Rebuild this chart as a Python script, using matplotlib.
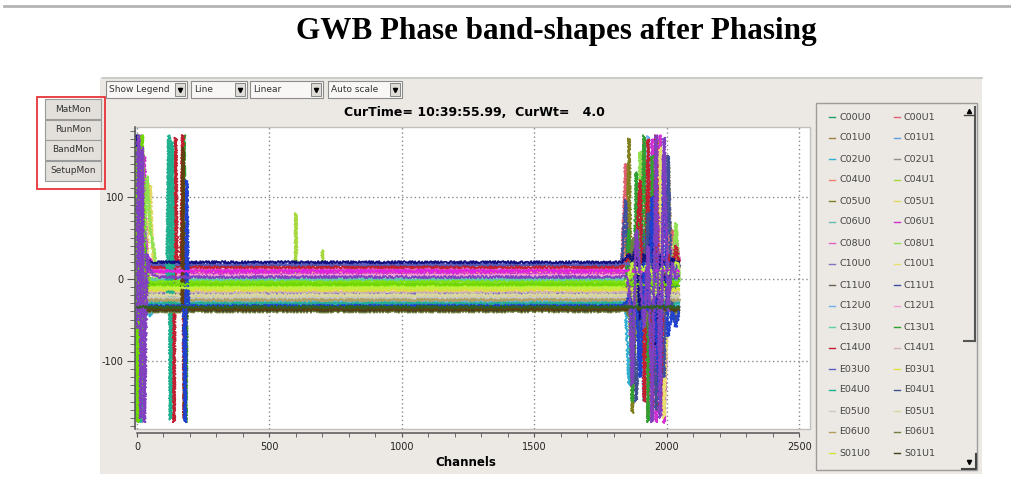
import numpy as np
import matplotlib.pyplot as plt
import matplotlib.ticker as ticker
from matplotlib.patches import Rectangle

plt.rcParams['axes.unicode_minus'] = False

# antenna/polarisation traces (first 34 are visible in the legend, the rest are scrolled off)
labels = ['C00U0', 'C00U1', 'C01U0', 'C01U1', 'C02U0', 'C02U1', 'C04U0', 'C04U1',
          'C05U0', 'C05U1', 'C06U0', 'C06U1', 'C08U0', 'C08U1', 'C10U0', 'C10U1',
          'C11U0', 'C11U1', 'C12U0', 'C12U1', 'C13U0', 'C13U1', 'C14U0', 'C14U1',
          'E03U0', 'E03U1', 'E04U0', 'E04U1', 'E05U0', 'E05U1', 'E06U0', 'E06U1',
          'S01U0', 'S01U1', 'S02U0', 'S02U1', 'S03U0', 'S03U1', 'S04U0', 'S04U1',
          'S06U0', 'S06U1', 'W01U0', 'W01U1']
colors = ['#20a060', '#e06070', '#a08040', '#60a0e0', '#30b0d0', '#909090', '#f08070', '#a8d840',
          '#808020', '#e0d860', '#60c0b0', '#d030d0', '#e060c0', '#90e050', '#8070c0', '#e8e070',
          '#706050', '#4050a0', '#70b0f0', '#f0a0d0', '#60d0a0', '#30a030', '#c02030', '#d0b0b0',
          '#6060c0', '#e0e040', '#20b090', '#405090', '#c8c8c8', '#d8d8a0', '#b0a060', '#708040',
          '#d8e040', '#404020', '#80e010', '#101080', '#a0f020', '#604010', '#2040d0', '#e020e0',
          '#c0f040', '#70d800', '#8040c0', '#306020']
# phase (deg) of each trace across the flat part of the band
levels = [-10, 10, -25, -30, -32, -20, 8, -12, -38, -22, 0, 6, 12, -6, -18, -26,
          -36, 16, -28, 4, -2, -8, 14, -16, 18, -14, -30, -34, -24, -20, -26, -40,
          -12, -38, -4, 20, -9, -37, -33, 9, -11, -7, 2, -35]

# band-edge readings
chan_left = [0, 4, 9, 14, 20, 28, 38, 50, 64, 80]
left_swing = {
    'C06U1': [20, 170, -172, 175, -165, 150, -40, 25, 8, 6],
    'W01U0': [-60, 175, 172, -170, 160, -175, 30, 10, 4, 2],
    'S02U0': [170, -165, 175, -120, 90, -30, 10, -4, -6, -4],
    'C13U1': [-172, 160, -175, 130, -60, 40, -20, -5, -8, -8],
    'C00U0': [120, -170, 150, -172, 100, -50, 20, -14, -10, -10],
    'C08U1': [-100, 175, -150, 90, 140, 40, 125, 60, 35, -6],
    'C02U0': [-20, -170, 165, -160, 60, -45, -42, -45, -40, -32],
    'C12U1': [170, 100, -160, 172, -30, 20, 10, 6, 4, 4],
    'E04U0': [-170, 172, -100, -175, 40, -30, -35, -30, -30, -30],
    'C05U1': [30, -172, 174, -60, 120, -40, 20, 115, -15, -22],
    'S02U1': [175, -60, 20, 22, 25, 20, 24, 21, 20, 20],
    'C10U0': [-174, 150, -120, 170, -175, 60, -20, -18, -18, -18],
    'S06U1': [160, -175, 120, -150, 175, -20, -10, -7, -7, -7],
    'C14U1': [-150, 60, 174, -172, 30, -16, -16, -16, -16, -16],
}
chan_right = [1830, 1845, 1858, 1870, 1885, 1900, 1915, 1930,
              1945, 1960, 1975, 1990, 2005, 2020, 2035, 2047]
right_swing = {
    'C14U0': [14, 20, 30, 10, 40, 120, -150, 170, -170, 175, -160, 20, 30, 10, 40, 20],
    'C11U1': [16, 96, -20, 30, 50, 10, 60, -100, 40, 10, -40, -120, 150, -50, 20, 15],
    'C00U1': [10, 140, -40, 20, 30, 60, 170, -172, 100, 174, -60, 30, 20, 60, 30, 15],
    'C05U0': [-38, -40, 171, -164, -40, -35, -40, -60, -38, -40, -50, -40, -36, -40, -42, -38],
    'C13U1': [-8, -10, 60, -150, 130, -20, 175, -175, 150, 30, -60, -20, 10, 0, -10, 0],
    'C06U1': [6, 10, -40, 20, 40, -30, 10, -80, 170, -175, 175, -176, 30, 10, 50, 20],
    'W01U0': [2, 5, -10, -130, 60, 5, -60, 40, -175, 175, -170, 172, -40, 20, 0, 5],
    'C02U0': [-32, -35, -130, -40, -30, -100, -40, -20, -60, -40, -30, -32, -40, -30, -35, -32],
    'E04U1': [-34, -30, -40, -20, -150, -40, -30, 80, -40, -160, -30, -40, -20, -30, -55, -34],
    'S04U0': [-33, -30, -20, -40, -35, -120, 20, -40, 100, -60, -150, 150, -70, -40, -59, -40],
    'C04U0': [8, 50, 10, 15, 60, -40, 20, 10, 30, 160, -100, -150, 60, 20, 30, 10],
    'C01U0': [-25, -25, -30, -110, 20, -25, -20, -30, 40, -40, 170, -165, 150, -20, -30, -25],
    'S02U1': [20, 25, 30, 20, 40, -50, 30, 20, 60, -80, 30, 20, -30, 25, 20, 20],
    'E06U1': [-40, -38, -45, 50, -40, -35, -60, -40, -35, -40, -45, -38, -40, -36, -40, -38],
    'C08U1': [-6, -5, 0, 10, -10, 155, -120, 10, 5, -10, 20, -40, 10, 5, 68, 0],
    'S06U0': [-11, -8, 5, 20, 10, 15, 10, 20, 5, -20, 10, 15, 5, 10, 20, 15],
    'S03U0': [-9, -5, 0, 5, 10, 5, 15, 0, 10, 5, 0, 10, 15, 5, 10, 5],
    'C08U0': [12, 15, 20, 25, 30, 20, 35, 25, 30, 20, 40, 25, 30, 35, 40, 25],
    'C12U0': [-28, -30, -25, -35, -28, -30, -150, 174, -30, -25, -40, -30, -28, -30, -25, -30],
    'C10U1': [-26, -20, -25, -30, -20, -25, -30, -20, -25, -30, 160, -170, -20, -25, -30, -26],
}
# isolated spikes inside the band: (channel, phase)
mid_spikes = {
    'E04U0': [(112, -30), (120, 175), (126, -172), (132, 168), (138, -30)],
    'C13U0': [(116, -2), (123, 172), (129, -170), (135, 160), (141, -2)],
    'C14U0': [(134, 14), (140, -175), (146, 172), (152, 14), (166, 14), (172, 175), (178, -172), (184, 14)],
    'S03U1': [(168, -37), (174, 160), (180, -170), (186, -37)],
    'S04U0': [(176, -33), (182, -175), (188, 120), (194, -33)],
    'C13U1': [(172, -8), (178, 175), (184, -175), (190, -8)],
    'C04U1': [(596, -12), (600, 80), (604, -12), (696, -12), (700, 35), (704, -12)],
}

buttons = ['MatMon', 'RunMon', 'BandMon', 'SetupMon']
dropdowns = ['Show Legend', 'Line', 'Linear', 'Auto scale']
cur_title = 'CurTime= 10:39:55.99,  CurWt=   4.0'

panel = '#ece9e4'
fig = plt.figure(figsize=(10.11, 4.79), dpi=100)

# pixel-space background layer for the GUI chrome
bg = fig.add_axes([0, 0, 1, 1])
bg.set_xlim(0, 1011)
bg.set_ylim(479, 0)
bg.axis('off')
bg.plot([4, 1011], [5.5, 5.5], color='#b4b4b4', lw=2)
bg.add_patch(Rectangle((100, 77), 882, 397, fc=panel, ec='none'))
bg.plot([103, 982], [77.5, 77.5], color='#c4c4c4', lw=1.2)

fig.text(556 / 1011, 1 - 31 / 479, 'GWB Phase band-shapes after Phasing',
         family='Liberation Serif', weight='bold', fontsize=22.4, ha='center', va='center')

drop_x = [(106, 187), (191, 247), (250, 323), (328, 402)]
for name, (x0, x1) in zip(dropdowns, drop_x):
    bg.add_patch(Rectangle((x0, 81), x1 - x0, 17, fc='#f8f7f5', ec='#8c8c8c', lw=0.8))
    bg.add_patch(Rectangle((x1 - 12, 83), 10, 13, fc='#e0ddd8', ec='#777777', lw=0.6))
    bg.plot(x1 - 7, 90, marker='v', ms=3, color='k')
    bg.text(x0 + 3, 89.5, name, fontsize=6.5, va='center', color='#333333')

for i, name in enumerate(buttons):
    y0 = 99 + 20.5 * i
    bg.add_patch(Rectangle((45, y0), 56, 20, fc='#e3e0db', ec='#9a9a9a', lw=0.8))
    bg.text(73, y0 + 10, name, fontsize=6.5, ha='center', va='center', color='#333333')
bg.add_patch(Rectangle((36.5, 97), 68.5, 92, fill=False, ec='#e8343a', lw=1.3))

bg.text(474, 112, cur_title, fontsize=9, weight='bold', ha='center', va='center')

# legend panel
bg.add_patch(Rectangle((816, 103), 161, 367, fc=panel, ec='#9c9c9c', lw=1))
bg.plot([974.5, 974.5], [107, 341], color='#555555', lw=1.5)
bg.plot([964, 975], [341, 341], color='#555555', lw=1.5)
bg.plot([976, 976, 962], [454, 469, 469], color='#444444', lw=1.5)
bg.plot(969, 111, marker='^', ms=3, color='k')
bg.plot([964, 974], [115, 115], color='#444444', lw=1)
bg.plot(969, 462, marker='v', ms=3, color='k')
for i in range(34):
    col, row = i % 2, i // 2
    x0 = 829 + 65 * col
    y = 117 + 21 * row
    bg.plot([x0, x0 + 6], [y, y], color=colors[i], lw=1)
    bg.text(x0 + 10, y, labels[i], fontsize=6.8, va='center', color='#444444')

bg.add_patch(Rectangle((135, 127), 675, 302, fc='white', ec='#c0c0c0', lw=1))

ax = fig.add_axes([135 / 1011, 50 / 479, 675 / 1011, 302 / 479])
ax.patch.set_alpha(0)
for k, lab in enumerate(labels):
    lvl = levels[k]
    if lab in left_swing:
        pts = list(zip(chan_left, left_swing[lab]))
    else:
        pts = [(0, lvl)]
    pts += mid_spikes.get(lab, [])
    if lab in right_swing:
        pts += list(zip(chan_right, right_swing[lab]))
    else:
        pts += [(2047, lvl)]
    pts.sort()
    ch, ph = zip(*pts)
    ln, = ax.plot(ch, ph, color=colors[k], lw=1.3)
    ln.set_sketch_params(scale=1.3, length=3, randomness=2)

ax.set_xlim(-7.5, 2541)
ax.set_ylim(-183.3, 185)
ax.xaxis.set_major_locator(ticker.MultipleLocator(500))
ax.xaxis.set_minor_locator(ticker.MultipleLocator(100))
ax.yaxis.set_major_locator(ticker.MultipleLocator(100))
ax.yaxis.set_minor_locator(ticker.MultipleLocator(10))
ax.grid(True, which='major', ls=(0, (1, 2)), color='#8a8a8a', lw=1)
ax.spines['top'].set_visible(False)
ax.spines['right'].set_visible(False)
ax.spines['bottom'].set_position(('outward', 3))
ax.spines['bottom'].set_bounds(0, 2500)
for s in ['left', 'bottom']:
    ax.spines[s].set_color('#555555')
    ax.spines[s].set_linewidth(1.1)
ax.tick_params(axis='x', which='both', direction='out', length=3, color='#555555',
               labelsize=7, pad=3, labelcolor='#222222')
ax.tick_params(axis='y', which='major', direction='out', length=6, color='#555555',
               labelsize=7, pad=2, labelcolor='#222222')
ax.tick_params(axis='y', which='minor', direction='out', length=3.5, color='#555555')
ax.set_xlabel('Channels', fontsize=8.5, fontweight='bold')
ax.xaxis.set_label_coords(0.49, -0.09)

plt.savefig('out.png', dpi=100)
